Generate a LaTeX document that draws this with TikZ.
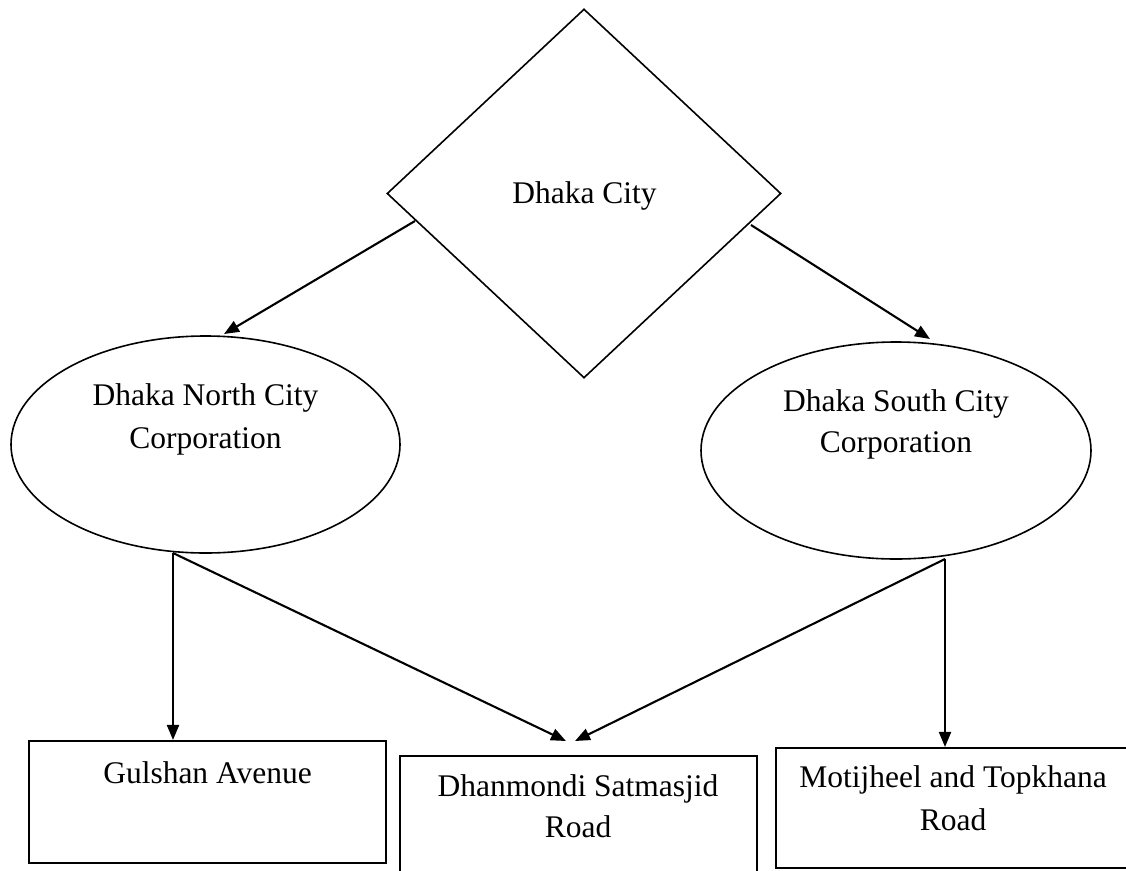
\documentclass[tikz,border=0pt]{standalone}
\usepackage{fontspec}
\setmainfont{Liberation Serif}
\usetikzlibrary{shapes.geometric,arrows.meta}
\tikzset{
  arr/.style={line width=2.1pt,-{Triangle[length=15pt,width=12pt]}},
  shp/.style={draw,line width=1.6pt,inner sep=0pt},
  boxshp/.style={draw,rectangle,line width=2.1pt,inner sep=0pt},
  lbl/.style={anchor=base,inner sep=0pt,font=\fontsize{31.5}{43}\selectfont}
}
\begin{document}
\begin{tikzpicture}[x=1pt,y=-1pt]
\useasboundingbox (0,0) rectangle (1126,870);
\clip (0,0) rectangle (1126,870);
\fill[white] (0,0) rectangle (1126,870);
% shapes
\node[shp,diamond,minimum width=394pt,minimum height=369pt] (dc) at (584,193.5) {};
\node[shp,ellipse,minimum width=389pt,minimum height=217pt] (dn) at (205.5,444.5) {};
\node[shp,ellipse,minimum width=390pt,minimum height=217pt] (ds) at (896,450.5) {};
\node[boxshp,minimum width=357pt,minimum height=122pt] (gul) at (207.5,802) {};
\node[boxshp,minimum width=357pt,minimum height=144pt] (dhn) at (578.5,828) {};
\node[boxshp,minimum width=360pt,minimum height=120pt] (mot) at (956,808) {};
% texts
\node[lbl] (tdc) at (584.5,203) {Dhaka City};
\node[lbl] (tdn1) at (205.5,405) {Dhaka North City};
\node[lbl] (tdn2) at (205.5,448) {Corporation};
\node[lbl] (tds1) at (896,411) {Dhaka South City};
\node[lbl] (tds2) at (896,452) {Corporation};
\node[lbl] (tgul) at (207.5,783) {Gulshan Avenue};
\node[lbl] (tdh1) at (578,796) {Dhanmondi Satmasjid};
\node[lbl] (tdh2) at (578,837) {Road};
\node[lbl] (tmo1) at (953,787) {Motijheel and Topkhana};
\node[lbl] (tmo2) at (953,830) {Road};
% connector points
\coordinate (dcL) at (415,221);
\coordinate (dnT) at (224,334);
\coordinate (dcR) at (751,225);
\coordinate (dsT) at (930,339);
\coordinate (dnB) at (173,553);
\coordinate (dsB) at (945,559);
\coordinate (dhL) at (566,741);
\coordinate (dhR) at (575,741);
% connectors
\draw[arr] (dcL) -- (dnT);
\draw[arr] (dcR) -- (dsT);
\draw[arr] (dnB) -- (dnB |- gul.north);
\draw[arr] (dnB) -- (dhL);
\draw[arr] (dsB) -- (dhR);
\draw[arr] (dsB) -- (dsB |- mot.north);
\end{tikzpicture}
\end{document}
